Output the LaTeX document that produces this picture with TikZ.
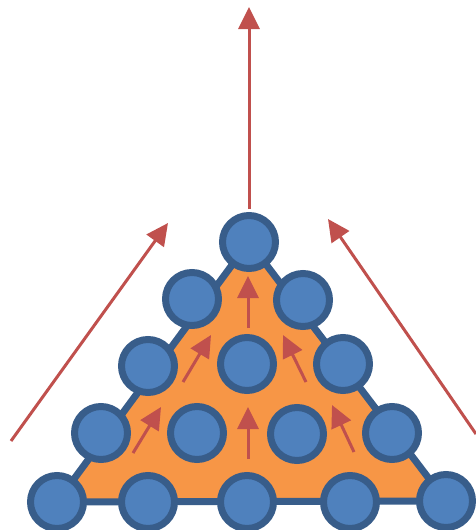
\documentclass[tikz,border=0pt]{standalone}
\usetikzlibrary{arrows.meta,calc,backgrounds}
\definecolor{ballblue}{HTML}{4F81BD}
\definecolor{balledge}{HTML}{385D8A}
\definecolor{wedgeorange}{HTML}{F79646}
\definecolor{flowred}{HTML}{C0504D}
\begin{document}
\begin{tikzpicture}[x=1pt,y=-1pt,>={Triangle[length=22pt,width=21pt]}]
\tikzstyle{ball}=[circle,draw=balledge,fill=ballblue,line width=7pt,minimum size=53pt,inner sep=0pt]
\tikzstyle{flow}=[->,draw=flowred,line width=3pt]
\useasboundingbox (0,0) rectangle (476,530);
% rows of balls, bottom to top
\foreach \n/\x/\y in {a1/57/502,a2/148/502,a3/247/502,a4/350/502,a5/446/501,
                      b1/101/433,b2/197/433,b3/297/434,b4/392/433,
                      c1/148/366,c2/247/364,c3/343/364,
                      d1/192/299,d2/303/300,
                      e/249/242}
  \node[ball] (\n) at (\x,\y) {};
\begin{scope}[on background layer]
\draw[balledge,fill=wedgeorange,line width=7pt,line join=round] (a1.center) -- (a5.center) -- (e.center) -- cycle;
\end{scope}
% outer arrows
\coordinate (peak) at (249,7);
\draw[flow,shorten <=3pt] (e) -- (peak);
\coordinate (lfoot) at (11,441);
\coordinate (lhead) at (168,223);
\draw[flow] (lfoot) -- (lhead);
\coordinate (rfoot) at (476,434);
\coordinate (rhead) at (328,219);
\draw[flow] (rfoot) -- (rhead);
% inner arrows
\foreach \i/\tx/\ty/\hx/\hy in {1/133/453/161/407,2/248/459/248/407,3/354/452/332/405,
                               4/183/382/211/335,5/306/382/283/335,6/248/328/248/276}{
  \coordinate (tail\i) at (\tx,\ty);
  \coordinate (tip\i) at (\hx,\hy);
  \draw[flow] (tail\i) -- (tip\i);
}
\end{tikzpicture}
\end{document}
